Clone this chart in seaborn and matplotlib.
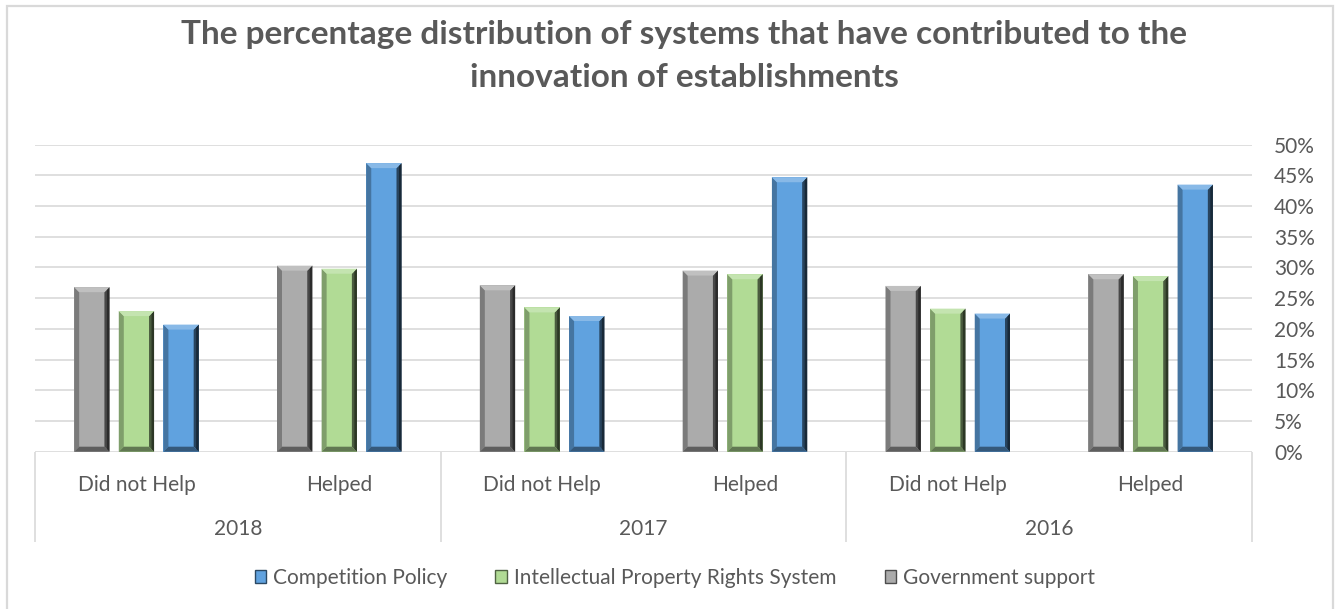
import matplotlib
matplotlib.use("Agg")
import numpy as np
import pandas as pd
import seaborn as sns
import matplotlib.pyplot as plt
import matplotlib.transforms as mtransforms
from matplotlib.patches import Polygon, Rectangle, Patch
from matplotlib.colors import to_rgb

# ---- data (percent of establishments) ----
years = ["2018", "2017", "2016"]
responses = ["Did not Help", "Helped"]
series = ["Government support", "Intellectual Property Rights System", "Competition Policy"]
government_support = [26.8, 30.3, 27.1, 29.5, 27.0, 28.9]
ip_rights_system = [22.9, 29.8, 23.5, 28.9, 23.3, 28.6]
competition_policy = [20.7, 47.0, 22.1, 44.7, 22.5, 43.5]
y_ticks = [0, 5, 10, 15, 20, 25, 30, 35, 40, 45, 50]

categories = [f"{y} | {r}" for y in years for r in responses]
values = {
    "Government support": government_support,
    "Intellectual Property Rights System": ip_rights_system,
    "Competition Policy": competition_policy,
}
df = pd.DataFrame(
    [(cat, name, v) for name in series for cat, v in zip(categories, values[name])],
    columns=["category", "series", "value"],
)

colors = {
    "Government support": "#ABABAB",
    "Intellectual Property Rights System": "#B1DB95",
    "Competition Policy": "#60A2DF",
}
TEXT = "#595959"
GRID = "#D9D9D9"
FS = 15

sns.set_theme(style="white")
plt.rcParams["font.family"] = ["Lato", "DejaVu Sans"]

W, H = 1338, 609
fig = plt.figure(figsize=(W / 100, H / 100), dpi=100)
ax = fig.add_axes([35 / W, 157.3 / H, 1217 / W, 307 / H])

sns.barplot(
    data=df, x="category", y="value", hue="series",
    order=categories, hue_order=series, palette=colors,
    width=0.66, gap=0.21, saturation=1, edgecolor="none",
    legend=False, ax=ax,
)

ax.set_xlim(-0.5, len(categories) - 0.5)
ax.set_ylim(0, 50)
for s in ax.spines.values():
    s.set_visible(False)

# grid and right-hand percent axis
ax.set_axisbelow(True)
ax.yaxis.grid(True, color=GRID, lw=1.2)
ax.xaxis.grid(False)
ax.yaxis.tick_right()
ax.set_yticks(y_ticks)
ax.set_yticklabels([f"{v}%" for v in y_ticks])
ax.tick_params(axis="y", length=0, pad=16, labelsize=FS, labelcolor=TEXT)

# two-level category axis
ax.set_xticks(range(len(categories)))
ax.set_xticklabels(responses * len(years))
ax.tick_params(axis="x", length=0, pad=24, labelsize=FS, labelcolor=TEXT)
for lbl in ax.get_xticklabels():
    lbl.set_va("center")
ax.set_xlabel("")
ax.set_ylabel("")

blend = mtransforms.blended_transform_factory(ax.transData, ax.transAxes)
for i, yr in enumerate(years):
    ax.text(2 * i + 0.5, -0.253, yr, transform=blend, ha="center", va="center",
            fontsize=FS, color=TEXT)
for xb in np.arange(-0.5, len(categories), 2):
    ax.plot([xb, xb], [0, -0.293], transform=blend, color=GRID, lw=1.2,
            clip_on=False, solid_capstyle="butt")

# bevelled look on every bar
fig.canvas.draw()
inv = ax.transData.inverted()
p0 = inv.transform((0, 0))
p1 = inv.transform((5, 5))
bw, bh = p1[0] - p0[0], p1[1] - p0[1]


def shade(c, f):
    return tuple(np.array(to_rgb(c)) * f)


def tint(c, f):
    c = np.array(to_rgb(c))
    return tuple(c + (1 - c) * f)


for bar in list(ax.patches):
    h = bar.get_height()
    if not np.isfinite(h) or h <= 0:
        continue
    x0, w = bar.get_x(), bar.get_width()
    x1, y0, y1 = x0 + w, 0, h
    fc = bar.get_facecolor()
    polys = [
        ([(x0, y0), (x0 + bw, y0 + bh), (x0 + bw, y1 - bh), (x0, y1)], shade(fc, 0.72)),
        ([(x1 - bw, y0 + bh), (x1, y0), (x1, y1), (x1 - bw, y1 - bh)], shade(fc, 0.42)),
        ([(x1 - bw * 0.5, y0 + bh * 0.5), (x1, y0), (x1, y1), (x1 - bw * 0.5, y1 - bh * 0.5)], shade(fc, 0.25)),
        ([(x0, y0), (x1, y0), (x1 - bw, y0 + bh), (x0 + bw, y0 + bh)], shade(fc, 0.55)),
        ([(x0, y1), (x1, y1), (x1 - bw, y1 - bh), (x0 + bw, y1 - bh)], tint(fc, 0.25)),
    ]
    for pts, col in polys:
        ax.add_patch(Polygon(pts, closed=True, facecolor=col, edgecolor="none", zorder=bar.get_zorder() + 0.1))

# title
fig.text(684 / W, 1 - 44 / H, "The percentage distribution of systems that have contributed to the",
         ha="center", va="baseline", fontsize=24, fontweight="bold", color=TEXT)
fig.text(684 / W, 1 - 87 / H, "innovation of establishments",
         ha="center", va="baseline", fontsize=24, fontweight="bold", color=TEXT)

# legend (reverse series order)
handles = [Patch(facecolor=colors[s], edgecolor=shade(colors[s], 0.45), lw=1.0) for s in series[::-1]]
fig.legend(handles, series[::-1], loc="center", bbox_to_anchor=(675 / W, 1 - 578 / H),
           ncol=3, frameon=False, handlelength=0.55, handleheight=0.55, handletextpad=0.35,
           columnspacing=2.3, fontsize=FS, labelcolor=TEXT)

# outer chart border
fig.patches.append(Rectangle((7 / W, -0.02), (1333 - 7) / W, 1.02 - 6 / H,
                             transform=fig.transFigure, facecolor="none",
                             edgecolor=GRID, lw=1.6))

fig.savefig("out.png", dpi=100)
